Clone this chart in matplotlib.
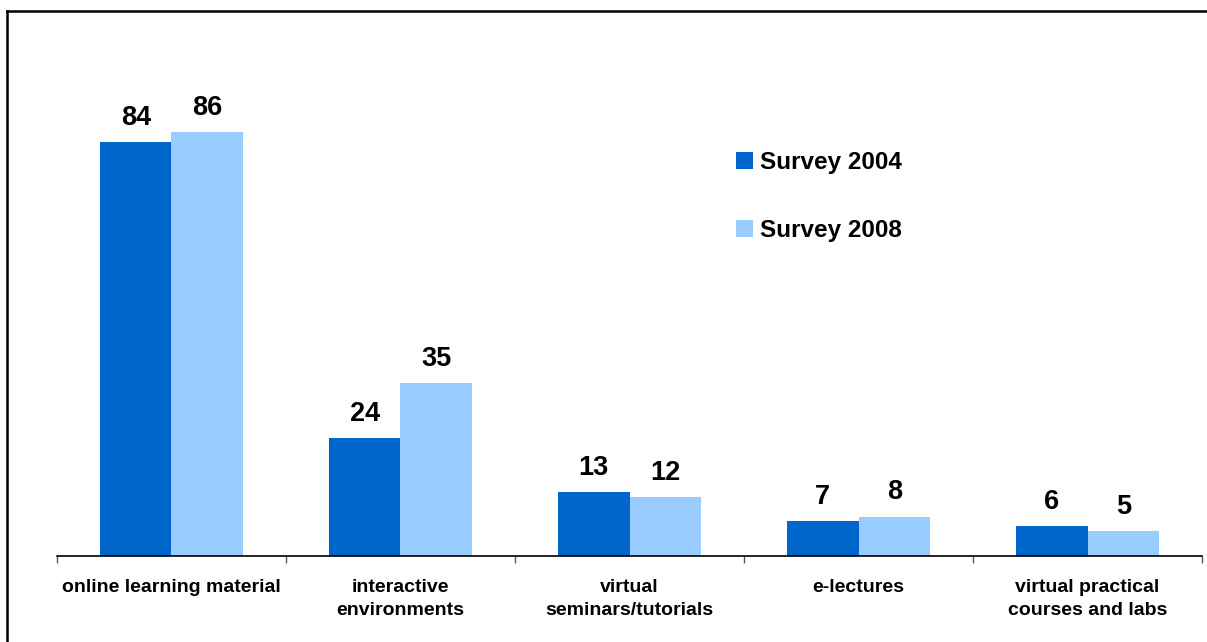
import numpy as np
import matplotlib.pyplot as plt
from matplotlib.lines import Line2D

plt.rcParams['font.family'] = ['Liberation Sans', 'DejaVu Sans']

# usage of e-learning offerings (%)
categories = ['online learning material', 'interactive\nenvironments',
              'virtual\nseminars/tutorials', 'e-lectures',
              'virtual practical\ncourses and labs']
survey_2004 = [84, 24, 13, 7, 6]
survey_2008 = [86, 35, 12, 8, 5]

c2004 = '#0066CC'
c2008 = '#99CCFF'

fig = plt.figure(figsize=(12.07, 6.42), dpi=100)
ax = fig.add_axes([0.0472, 0.134, 0.9487, 0.768])

x = np.arange(len(categories))
w = 0.312
b1 = ax.bar(x - w/2, survey_2004, w, color=c2004, label='Survey 2004')
b2 = ax.bar(x + w/2, survey_2008, w, color=c2008, label='Survey 2008')

for bars, vals in ((b1, survey_2004), (b2, survey_2008)):
    for r, v in zip(bars, vals):
        ax.annotate(str(v), (r.get_x() + r.get_width()/2, v),
                    xytext=(0, 8), textcoords='offset points',
                    ha='center', va='bottom', fontsize=19.5, fontweight='bold')

ax.set_xlim(-0.5, len(categories) - 0.5)
ax.set_ylim(0, 100)
ax.set_xticks(x)
ax.set_xticklabels(categories, fontsize=14, fontweight='bold', linespacing=1.45)
ax.set_xticks(np.arange(-0.5, len(categories), 1), minor=True)
ax.tick_params(axis='x', which='major', length=0, pad=16.5)
ax.tick_params(axis='x', which='minor', length=5, width=1, color='#555555')
ax.set_yticks([])
for s in ('top', 'right', 'left'):
    ax.spines[s].set_visible(False)
ax.spines['bottom'].set_linewidth(1.2)

ax.legend(loc='upper left', bbox_to_anchor=(0.5915, 0.7985), bbox_transform=fig.transFigure,
          frameon=False, prop={'size': 17.5, 'weight': 'bold'},
          handlelength=0.7, handleheight=0.7, handletextpad=0.3, labelspacing=1.85)

# outer frame (top and left edges)
fig.add_artist(Line2D([7/1207, 1], [1 - 11/642, 1 - 11/642], color='black', lw=1.8,
                      transform=fig.transFigure))
fig.add_artist(Line2D([7/1207, 7/1207], [0, 1 - 11/642], color='black', lw=1.8,
                      transform=fig.transFigure))

fig.savefig('out.png', dpi=100)
